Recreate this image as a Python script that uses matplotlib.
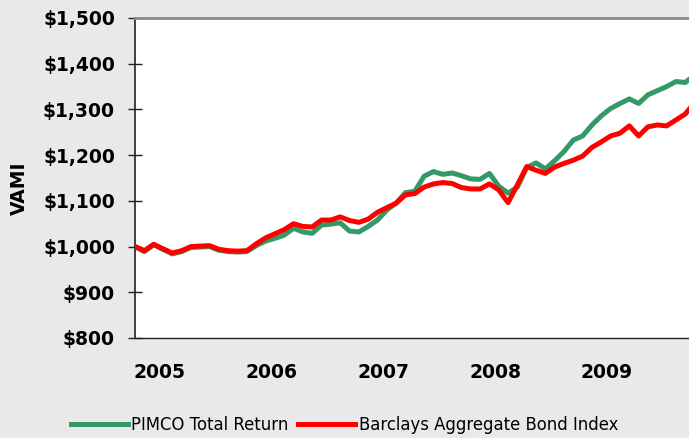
import matplotlib
matplotlib.use('Agg')
import matplotlib.pyplot as plt
import numpy as np

# monthly VAMI values (growth of $1,000)
pimco = [1000, 989, 1004, 994, 984, 989, 998, 999, 1000, 992,
         989, 988, 989, 1002, 1012, 1018, 1025, 1040, 1032, 1029,
         1047, 1049, 1052, 1034, 1032, 1044, 1058, 1080, 1095, 1118,
         1121, 1154, 1164, 1158, 1161, 1155, 1148, 1147, 1160, 1132,
         1117, 1130, 1173, 1183, 1170, 1188, 1208, 1233, 1242, 1266,
         1286, 1302, 1313, 1323, 1313, 1332, 1341, 1350, 1361, 1359, 1375]
barclays = [1000, 991, 1005, 995, 986, 991, 1000, 1001, 1002, 994,
            991, 990, 991, 1006, 1019, 1028, 1037, 1050, 1044, 1043,
            1058, 1058, 1065, 1057, 1053, 1060, 1075, 1085, 1095, 1113,
            1116, 1130, 1137, 1140, 1138, 1129, 1126, 1126, 1137, 1124,
            1096, 1135, 1175, 1167, 1160, 1174, 1182, 1189, 1198, 1217,
            1229, 1242, 1248, 1264, 1242, 1262, 1266, 1264, 1277, 1290, 1315]
series_names = ['PIMCO Total Return', 'Barclays Aggregate Bond Index']
years = ['2005', '2006', '2007', '2008', '2009']
y_ticks = [800, 900, 1000, 1100, 1200, 1300, 1400, 1500]

BG = '#e9e9e9'
GREEN = '#339966'
RED = '#ff0000'


def plot_vami():
    fig = plt.figure(figsize=(6.89, 4.38), dpi=100, facecolor=BG)
    ax = fig.add_axes([135 / 689, 1 - 338 / 438, 1 - 135 / 689, 320 / 438])
    ax.set_facecolor('white')

    x = np.arange(len(pimco))
    l1, = ax.plot(x, pimco, color=GREEN, lw=3.6, zorder=2)
    l2, = ax.plot(x, barclays, color=RED, lw=3.6, zorder=3)

    ax.set_xlim(0, 59.4)
    ax.set_ylim(800, 1500)

    ax.set_yticks(y_ticks, [f'${v:,}' for v in y_ticks],
                  fontweight='bold', fontsize=13.5)
    ax.tick_params(axis='y', direction='inout', length=10, width=1,
                   pad=9.4, color='#222222')
    year_pos = np.arange(len(years)) * 12 + 2.6
    ax.set_xticks(year_pos, years, fontweight='bold', fontsize=13.5)
    ax.tick_params(axis='x', length=0, pad=18)

    ax.spines['right'].set_visible(False)
    ax.spines['top'].set_color('#8c8c8c')
    ax.spines['top'].set_linewidth(2)
    ax.spines['left'].set_color('#222222')
    ax.spines['left'].set_linewidth(1.2)
    ax.spines['bottom'].set_color('#222222')
    ax.spines['bottom'].set_linewidth(1)

    fig.text(19.5 / 689, 1 - 188 / 438, 'VAMI', rotation=90,
             fontweight='bold', fontsize=13.5, ha='center', va='center')

    fig.legend([l1, l2], series_names, loc='center',
               bbox_to_anchor=(0.5, 1 - 425 / 438), ncol=2, frameon=False,
               fontsize=11.9, handlelength=3.45, handletextpad=0.2,
               columnspacing=0.6, borderaxespad=0)

    fig.savefig('out.png', dpi=100, facecolor=BG)


if __name__ == '__main__':
    plot_vami()
